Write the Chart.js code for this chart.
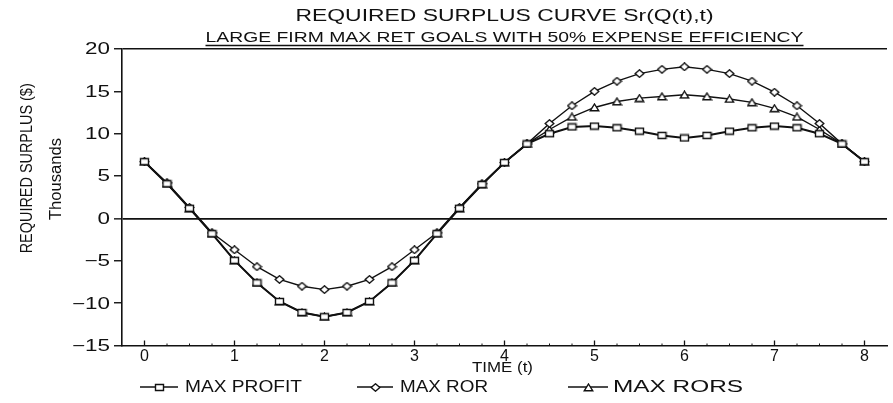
<!DOCTYPE html>
<html>
<head>
<meta charset="utf-8">
<script src="https://cdn.jsdelivr.net/npm/chart.js@4.4.1/dist/chart.umd.min.js"></script>
<style>
  html, body { margin: 0; padding: 0; background: #fff; }
  #wrap { width: 893px; height: 403px; position: relative; }
</style>
</head>
<body>
<div id="wrap"><canvas id="c" width="893" height="403"></canvas></div>
<script>
// Time points (t)
const times = [0, 0.25, 0.5, 0.75, 1, 1.25, 1.5, 1.75, 2, 2.25, 2.5, 2.75, 3, 3.25, 3.5, 3.75,
               4, 4.25, 4.5, 4.75, 5, 5.25, 5.5, 5.75, 6, 6.25, 6.5, 6.75, 7, 7.25, 7.5, 7.75, 8];

// Required surplus, thousands of dollars
const maxProfit = [6.7, 4.1, 1.2, -1.8, -4.95, -7.6, -9.8, -11.1, -11.6, -11.1, -9.8, -7.6, -4.95, -1.8, 1.2, 4.0,
                   6.6, 8.8, 10.0, 10.8, 10.9, 10.7, 10.3, 9.8, 9.5, 9.8, 10.3, 10.7, 10.9, 10.7, 10.0, 8.8, 6.7];
const maxRor    = [6.7, 4.2, 1.3, -1.7, -3.7, -5.7, -7.2, -8.0, -8.4, -8.0, -7.2, -5.7, -3.7, -1.7, 1.3, 4.1,
                   6.6, 8.8, 11.2, 13.3, 15.0, 16.2, 17.1, 17.6, 17.9, 17.6, 17.1, 16.2, 14.9, 13.3, 11.2, 8.8, 6.7];
const maxRors   = [6.7, 4.1, 1.2, -1.8, -4.95, -7.6, -9.8, -11.1, -11.6, -11.1, -9.8, -7.6, -4.95, -1.8, 1.2, 4.0,
                   6.6, 8.8, 10.5, 12.0, 13.1, 13.8, 14.2, 14.4, 14.6, 14.4, 14.1, 13.7, 13.0, 12.0, 10.5, 8.8, 6.7];

const seriesNames = ['MAX PROFIT', 'MAX ROR', 'MAX RORS'];
const yTickValues = [-15, -10, -5, 0, 5, 10, 15, 20];
const xTickValues = [0, 1, 2, 3, 4, 5, 6, 7, 8];
const xTickLabels = ['0', '1', '2', '3', '4', '5', '6', '7', '8'];

const chartTitle = 'REQUIRED SURPLUS CURVE Sr(Q(t),t)';
const chartSubtitle = 'LARGE FIRM MAX RET GOALS WITH 50% EXPENSE EFFICIENCY';
const yTitle = 'REQUIRED SURPLUS ($)';
const yUnit = 'Thousands';
const xTitle = 'TIME (t)';

const FONT = '"Liberation Sans", Arial, Helvetica, sans-serif';
const INK = '#111';

// Small hollow markers used both on the curves and in the key
function makeMarker(kind) {
  const c = document.createElement('canvas');
  c.width = 11; c.height = 9;
  const g = c.getContext('2d');
  g.fillStyle = '#fff';
  g.strokeStyle = INK;
  g.lineWidth = 1.4;
  g.beginPath();
  if (kind === 'rect') {
    g.rect(1.5, 1.5, 8, 6);
  } else if (kind === 'diamond') {
    g.moveTo(5.5, 0.8); g.lineTo(9.8, 4.5); g.lineTo(5.5, 8.2); g.lineTo(1.2, 4.5); g.closePath();
  } else {
    g.moveTo(5.5, 1.0); g.lineTo(9.8, 7.8); g.lineTo(1.2, 7.8); g.closePath();
  }
  g.fill();
  g.stroke();
  return c;
}
const markers = [makeMarker('rect'), makeMarker('diamond'), makeMarker('triangle')];

function toPoints(values) {
  return times.map((t, i) => ({ x: t, y: values[i] }));
}

function fmtY(v) {
  return v < 0 ? '\u2212' + Math.abs(v) : String(v);
}

// Draws text, optionally stretched horizontally to a given width
function putText(ctx, text, x, y, size, o) {
  o = o || {};
  ctx.save();
  ctx.font = (o.weight || 'normal') + ' ' + size + 'px ' + FONT;
  const w = ctx.measureText(text).width;
  const sx = o.width ? o.width / w : (o.scaleX || 1);
  ctx.translate(x, y);
  if (o.rotate) ctx.rotate(o.rotate);
  ctx.scale(sx, 1);
  ctx.fillStyle = INK;
  ctx.textAlign = o.align || 'left';
  ctx.textBaseline = o.baseline || 'alphabetic';
  ctx.fillText(text, 0, 0);
  ctx.restore();
  return w * sx;
}

const decorations = {
  id: 'decorations',
  afterDraw(chart) {
    const ctx = chart.ctx;
    const area = chart.chartArea;
    const xs = chart.scales.x;
    const ys = chart.scales.y;
    const cx = (area.left + area.right) / 2;

    // Titles
    putText(ctx, chartTitle, cx, 20.7, 16, { align: 'center', width: 418 });
    const sw = putText(ctx, chartSubtitle, cx, 42.3, 15, { align: 'center', width: 598 });
    ctx.save();
    ctx.strokeStyle = INK;
    ctx.lineWidth = 1.4;
    ctx.beginPath();
    ctx.moveTo(cx - sw / 2, 45.5);
    ctx.lineTo(cx + sw / 2, 45.5);
    ctx.stroke();
    ctx.restore();

    // Axis titles
    putText(ctx, yTitle, 27.5, 168.3, 16, { align: 'center', baseline: 'middle', rotate: -Math.PI / 2, width: 170 });
    putText(ctx, yUnit, 56.5, 179, 16, { align: 'center', baseline: 'middle', rotate: -Math.PI / 2, width: 82 });
    putText(ctx, xTitle, 472, 372, 15, { width: 61 });

    // Value axis labels
    ys.ticks.forEach(t => {
      const py = ys.getPixelForValue(t.value);
      putText(ctx, fmtY(t.value), area.left - 12, py + 1, 16, { align: 'right', baseline: 'middle', scaleX: 1.4 });
    });

    // Inward tick marks along the time axis
    ctx.save();
    ctx.strokeStyle = INK;
    for (let v = 0; v <= 8.001; v += 0.25) {
      const px = xs.getPixelForValue(v);
      const major = Math.abs(v - Math.round(v)) < 1e-6;
      ctx.lineWidth = major ? 1.3 : 1;
      ctx.beginPath();
      ctx.moveTo(px, area.bottom);
      ctx.lineTo(px, area.bottom - (major ? 5 : 2));
      ctx.stroke();
    }
    ctx.restore();

    // Key
    const key = [
      { x0: 140, x1: 178, tx: 185, tw: 117 },
      { x0: 357, x1: 393, tx: 400, tw: 88 },
      { x0: 568, x1: 608, tx: 613, tw: 130 }
    ];
    chart.data.datasets.forEach((ds, i) => {
      const k = key[i];
      const ky = 387;
      ctx.save();
      ctx.strokeStyle = INK;
      ctx.lineWidth = 1.4;
      ctx.beginPath();
      ctx.moveTo(k.x0, ky);
      ctx.lineTo(k.x1, ky);
      ctx.stroke();
      const m = ds.pointStyle;
      ctx.drawImage(m, Math.round((k.x0 + k.x1) / 2 - m.width / 2), Math.round(ky - m.height / 2));
      ctx.restore();
      putText(ctx, ds.label, k.tx, 392, 16, { width: k.tw });
    });
  }
};

const seriesValues = [maxProfit, maxRor, maxRors];
const lineWidths = [2, 1.4, 1.4];

new Chart(document.getElementById('c'), {
  type: 'line',
  data: {
    datasets: seriesNames.map((name, i) => ({
      label: name,
      data: toPoints(seriesValues[i]),
      borderColor: INK,
      backgroundColor: '#fff',
      borderWidth: lineWidths[i],
      pointStyle: markers[i],
      pointRadius: 4,
      tension: 0,
      fill: false
    }))
  },
  options: {
    responsive: false,
    animation: false,
    devicePixelRatio: 1,
    layout: { padding: { left: 72, top: 49, right: 1, bottom: 37.5 } },
    plugins: { legend: { display: false }, title: { display: false }, tooltip: { enabled: false } },
    scales: {
      x: {
        type: 'linear',
        min: -0.25,
        max: 8.25,
        afterBuildTicks: s => { s.ticks = xTickValues.map(v => ({ value: v })); },
        afterFit: s => { s.height = 20; },
        ticks: {
          autoSkip: false,
          maxRotation: 0,
          padding: 1,
          color: INK,
          font: { family: FONT, size: 16 },
          callback: (v) => xTickLabels[xTickValues.indexOf(v)]
        },
        grid: { display: false, drawTicks: false },
        border: { display: true, color: INK, width: 1.6 }
      },
      y: {
        min: -15,
        max: 20,
        afterBuildTicks: s => { s.ticks = yTickValues.map(v => ({ value: v })); },
        afterFit: s => { s.width = 50; },
        ticks: { display: false },
        grid: {
          display: true,
          drawTicks: true,
          tickLength: 8,
          tickColor: INK,
          tickWidth: 1.4,
          color: c => (c.tick && (c.tick.value === 0 || c.tick.value === 20)) ? INK : 'rgba(0,0,0,0)',
          lineWidth: c => (c.tick && c.tick.value === 0) ? 1.7 : 1.5
        },
        border: { display: true, color: INK, width: 1.6 }
      }
    }
  },
  plugins: [decorations]
});
</script>
</body>
</html>
